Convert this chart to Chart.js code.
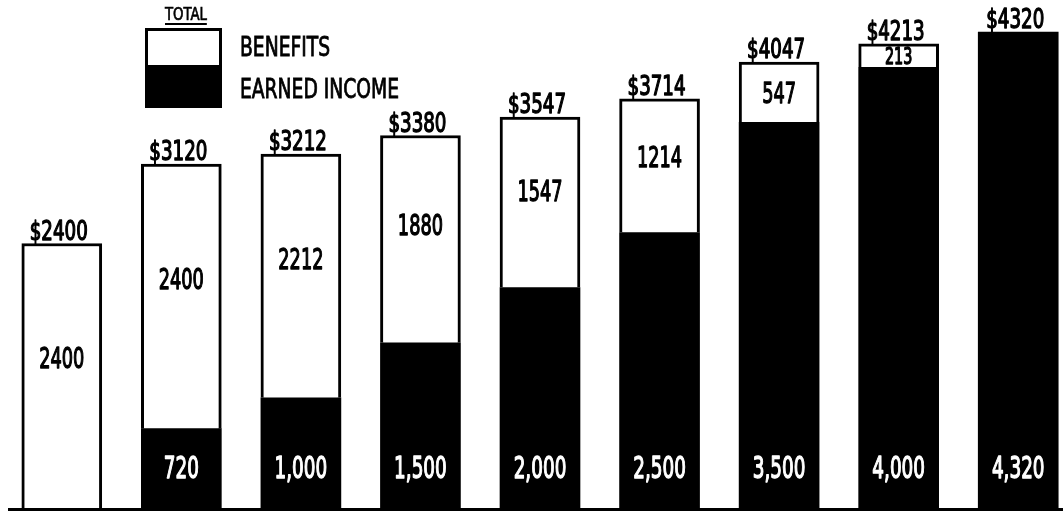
<!DOCTYPE html>
<html lang="en">
<head>
  <meta charset="UTF-8" />
  <title>Benefits and Earned Income</title>
  <script src="https://cdn.jsdelivr.net/npm/chart.js"></script>
  <style>
    body {
      margin: 0;
      background: #fff;
      overflow: hidden;
      font-family: 'Liberation Sans Narrow', 'DejaVu Sans Condensed', sans-serif;
      color: #000;
    }
    .wrap {
      position: relative;
      width: 1080px;
      height: 511px;
    }
    .key { position: absolute; white-space: nowrap; }
    .key.total {
      left: 165px; top: 5px;
      font-size: 18px;
      line-height: 18px;
      border-bottom: 2px solid #000;
      -webkit-text-stroke: 0.7px #000;
      transform: scaleX(0.82);
      transform-origin: left top;
    }
    .key.box {
      left: 145px; width: 77px; height: 40px;
      box-sizing: border-box;
      border: 3px solid #000;
    }
    .key.txt {
      left: 240px;
      font-size: 26px;
      line-height: 26px;
      transform: scaleX(0.8);
      transform-origin: left top;
      -webkit-text-stroke: 0.8px #000;
    }
  </style>
</head>
<body>
  <div class="wrap">
    <canvas id="incomeChart"></canvas>
    <div class="key total">TOTAL</div>
    <div class="key box" style="top:28px; background:#fff;"></div>
    <div class="key box" style="top:67px; height:41px; background:#000;"></div>
    <div class="key txt" style="top:34px;">BENEFITS</div>
    <div class="key txt" style="top:76px;">EARNED INCOME</div>
  </div>

  <script>
    // values
    const totals = [2400, 3120, 3212, 3380, 3547, 3714, 4047, 4213, 4320];
    const earned = [null, 720, 1000, 1500, 2000, 2500, 3500, 4000, 4320];
    const benefits = [2400, 2400, 2212, 1880, 1547, 1214, 547, 213, null];
    const categories = totals.map(t => '$' + t);

    const FONT = "'Liberation Sans Narrow', 'DejaVu Sans Condensed', sans-serif";

    // hand lettering is narrow and a bit heavy: squeeze sideways, add a thin stroke
    function drawText(ctx, str, x, y, size, sx, color) {
      ctx.save();
      ctx.translate(x, y);
      ctx.scale(sx, 1);
      ctx.font = size + 'px ' + FONT;
      ctx.fillStyle = color;
      ctx.strokeStyle = color;
      ctx.lineWidth = 1.3;
      ctx.lineJoin = 'round';
      ctx.fillText(str, 0, 0);
      ctx.strokeText(str, 0, 0);
      ctx.restore();
    }

    const labelPlugin = {
      id: 'barLabels',
      afterDatasetsDraw(chart) {
        const ctx = chart.ctx;
        const metaE = chart.getDatasetMeta(0);
        const metaB = chart.getDatasetMeta(1);
        const y = chart.scales.y;
        ctx.save();
        ctx.textAlign = 'center';
        ctx.textBaseline = 'alphabetic';
        for (let i = 0; i < categories.length; i++) {
          const x = metaB.data[i].x;
          // earned income, white on black near the foot
          if (earned[i]) {
            const el = metaE.data[i];
            drawText(ctx, earned[i].toLocaleString('en-US'), x, el.base - 30, 31, 0.66, '#fff');
          }
          // benefits, black inside the white part (smaller when the box is thin)
          if (benefits[i]) {
            const el = metaB.data[i];
            const h = el.base - el.y;
            const size = Math.min(29, h);
            const mid = (el.y + el.base) / 2 - (h > 100 ? Math.min(18, h * 0.07) : 0);
            drawText(ctx, String(benefits[i]), x, mid + size * 0.36, size, 0.68, '#000');
          }
          // total above the bar
          drawText(ctx, categories[i], x - 3, y.getPixelForValue(totals[i]) - 4, 26, 0.78, '#000');
        }
        // ground line
        ctx.fillStyle = '#000';
        ctx.fillRect(8, chart.chartArea.bottom, chart.width, 3);
        ctx.restore();
      }
    };

    new Chart(document.getElementById('incomeChart'), {
      type: 'bar',
      data: {
        labels: categories,
        datasets: [
          {
            label: 'EARNED INCOME',
            data: earned,
            backgroundColor: '#000',
            borderWidth: 0,
            barThickness: 80
          },
          {
            label: 'BENEFITS',
            data: benefits,
            backgroundColor: '#fff',
            borderColor: '#000',
            borderWidth: 3,
            borderSkipped: 'bottom',
            barThickness: 80
          }
        ]
      },
      options: {
        responsive: true,
        maintainAspectRatio: false,
        animation: false,
        layout: { padding: { left: 2, right: 2, top: 0, bottom: 3 } },
        scales: {
          x: { stacked: true, display: false },
          y: { stacked: true, display: false, min: 0, max: 4610 }
        },
        plugins: {
          legend: { display: false },
          tooltip: { enabled: false }
        }
      },
      plugins: [labelPlugin]
    });
  </script>
</body>
</html>
